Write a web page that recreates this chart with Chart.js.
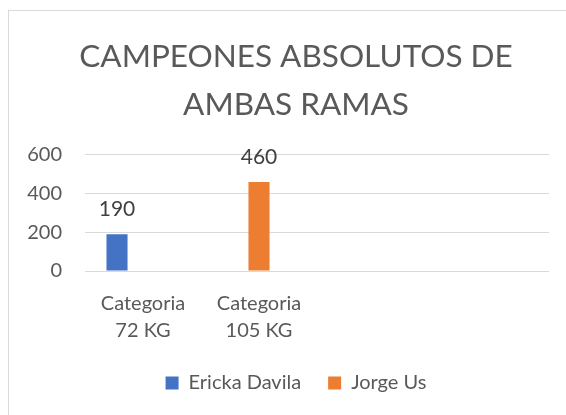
<!DOCTYPE html>
<html>
<head>
<meta charset="utf-8">
<script src="https://cdn.jsdelivr.net/npm/chart.js@4"></script>
<style>
  html, body { margin: 0; padding: 0; background: #fff; overflow: hidden; width: 566px; height: 415px; }
  #frame { position: absolute; left: 8px; top: 10px; width: 700px; height: 500px; border: 1px solid #d9d9d9; }
  #myChart { position: absolute; left: 0; top: 0; }
</style>
</head>
<body>
<div id="frame"></div>
<canvas id="myChart" width="590" height="415"></canvas>
<script>
// chart data
const categories = [['Categoria', '72 KG'], ['Categoria', '105 KG'], '', ''];
const erickaDavila = [190, null, null, null];
const jorgeUs = [null, 460, null, null];
const emptySeries = [null, null, null, null];
const yTicks = [0, 200, 400, 600];

const textColor = '#595959';

// value labels above each bar
const barLabels = {
    id: 'barLabels',
    afterDatasetsDraw(chart) {
        const ctx = chart.ctx;
        ctx.save();
        ctx.font = '21px Lato';
        ctx.fillStyle = '#404040';
        ctx.textAlign = 'center';
        ctx.textBaseline = 'middle';
        chart.data.datasets.forEach(function(ds, i) {
            const meta = chart.getDatasetMeta(i);
            meta.data.forEach(function(bar, j) {
                if (ds.data[j] == null) return;
                ctx.fillText(String(ds.data[j]), bar.x, bar.y - 25);
            });
        });
        ctx.restore();
    }
};

new Chart(document.getElementById('myChart'), {
    type: 'bar',
    data: {
        labels: categories,
        datasets: [{
            label: 'Ericka Davila',
            data: erickaDavila,
            backgroundColor: '#4472C4'
        }, {
            label: 'Jorge Us',
            data: jorgeUs,
            backgroundColor: '#ED7D31'
        }, {
            label: '',
            data: emptySeries,
            backgroundColor: '#A5A5A5'
        }]
    },
    options: {
        responsive: false,
        animation: false,
        devicePixelRatio: 1,
        categoryPercentage: 0.672,
        barPercentage: 0.81,
        layout: { padding: { left: 8, right: 6, top: 0, bottom: 12 } },
        plugins: {
            title: {
                display: true,
                text: ['CAMPEONES ABSOLUTOS DE', 'AMBAS RAMAS'],
                color: textColor,
                font: { family: 'Lato', size: 31.5, weight: 'normal', lineHeight: 1.52 },
                padding: { top: 33, bottom: 26 }
            },
            legend: {
                position: 'bottom',
                labels: {
                    color: textColor,
                    font: { family: 'Lato', size: 20 },
                    boxWidth: 13,
                    boxHeight: 13,
                    padding: 27,
                    filter: function(item) { return item.text !== ''; }
                }
            },
            tooltip: { enabled: false }
        },
        scales: {
            x: {
                afterFit: function(scale) { scale.height = 75; },
                grid: { display: false },
                border: { display: false },
                ticks: {
                    color: textColor,
                    font: { family: 'Lato', size: 20, lineHeight: 1.35 },
                    padding: 11,
                    maxRotation: 0,
                    autoSkip: false
                }
            },
            y: {
                min: 0,
                max: 600,
                afterBuildTicks: function(scale) {
                    scale.ticks = yTicks.map(function(v) { return { value: v }; });
                },
                afterFit: function(scale) { scale.width = 77; },
                grid: { color: '#d9d9d9', drawTicks: false },
                border: { display: false },
                ticks: {
                    color: textColor,
                    font: { family: 'Lato', size: 20 },
                    padding: 23
                }
            },
            yRight: {
                position: 'right',
                afterFit: function(scale) { scale.width = 35; },
                grid: { display: false },
                border: { display: false },
                ticks: { display: false }
            }
        }
    },
    plugins: [barLabels]
});
</script>
</body>
</html>
